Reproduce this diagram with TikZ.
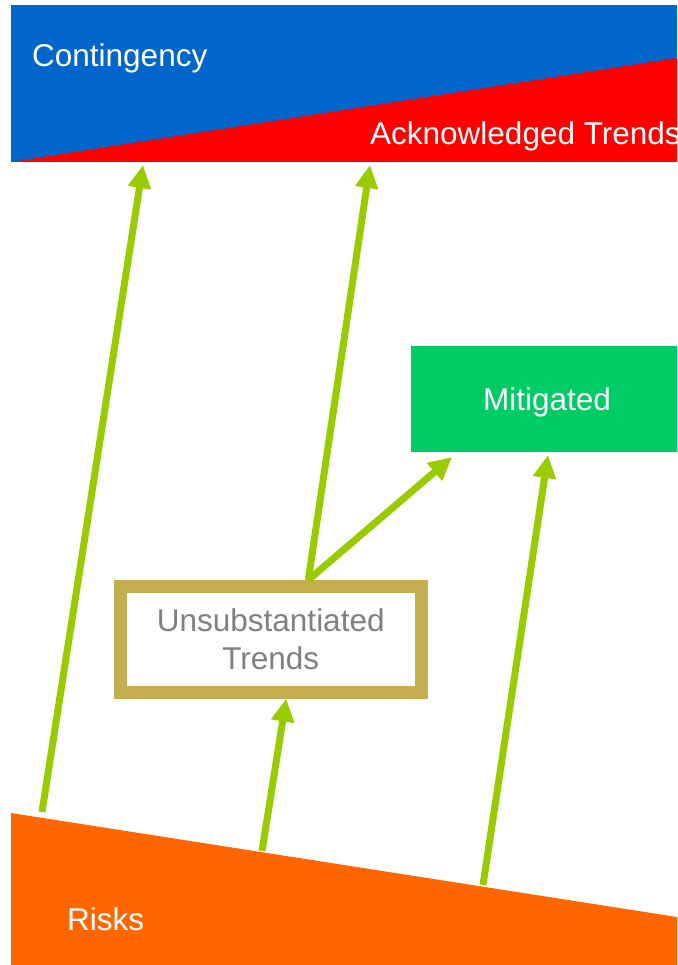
\documentclass[tikz,border=0pt]{standalone}
\usepackage{fontspec}
\setmainfont{Liberation Sans}
\usetikzlibrary{arrows.meta}
\definecolor{contblue}{HTML}{0066CC}
\definecolor{acksred}{HTML}{FF0000}
\definecolor{mitgreen}{HTML}{00CC66}
\definecolor{flowgreen}{HTML}{99CC00}
\definecolor{riskorange}{HTML}{FF6600}
\definecolor{trendgold}{HTML}{C4AE4F}
\definecolor{trendgray}{HTML}{808080}
\begin{document}
\begin{tikzpicture}[x=1pt,y=-1pt,
  lbl/.style={font=\fontsize{31.5}{38}\selectfont, inner sep=0pt, text=white},
  flow/.style={draw=flowgreen, line width=7pt, -{Triangle[width=22pt,length=23pt]}}]
\useasboundingbox (0,0) rectangle (677,965);
\clip (0,0) rectangle (677,965);

% top band: contingency with the acknowledged trends wedge
\fill[contblue] (11,5) rectangle (677,162);
\fill[acksred] (11,162) -- (677,58) -- (677,162) -- cycle;
\node[lbl, anchor=base west] (cont) at (32,67) {Contingency};
\node[lbl, anchor=base west] (ack) at (370,145) {Acknowledged Trends};

% bottom band: risks
\fill[riskorange] (11,813) -- (677,917) -- (677,965) -- (11,965) -- cycle;
\node[lbl, anchor=base west] (risks) at (67,930) {Risks};

% mitigated box
\node[lbl, fill=mitgreen, text depth=0pt, minimum width=272pt, minimum height=106pt]
  (mit) at (547,399) {Mitigated};

% unsubstantiated trends box
\node[draw=trendgold, line width=13pt, fill=white, text=trendgray,
  font=\fontsize{31.5}{38}\selectfont, align=center,
  minimum width=301.5pt, minimum height=105.5pt, inner sep=0pt]
  (unsub) at (270.75,639.25) {Unsubstantiated\\Trends};

% connector ends
\coordinate (r1) at (42,812);
\coordinate (r2) at (262,851);
\coordinate (r3) at (483,885);
\coordinate (t1) at (143,165);
\coordinate (t2) at (370,165);
\coordinate (m1) at (452,457);
\coordinate (m2) at (548,455);
\coordinate (u1) at ([xshift=15.5pt]unsub.south);
\coordinate (u2) at ([xshift=37.5pt]unsub.north);

% flows
\draw[flow] (r1) -- (t1);
\draw[flow] (r2) -- (u1);
\draw[flow] (r3) -- (m2);
\draw[flow] (u2) -- (t2);
\draw[flow] (u2) -- (m1);
\end{tikzpicture}
\end{document}
